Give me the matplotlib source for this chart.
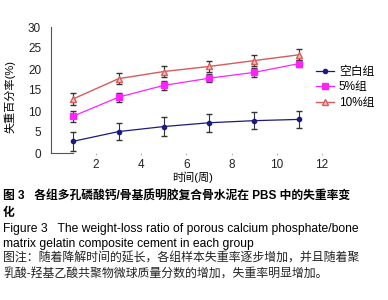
import matplotlib
matplotlib.use("Agg")
import matplotlib.pyplot as plt
import numpy as np

plt.rcParams['font.family'] = ['Liberation Sans', 'Noto Sans CJK SC', 'DejaVu Sans']

weeks = [1, 3, 5, 7, 9, 11]
blank = [2.8, 5.1, 6.3, 7.2, 7.7, 8.0]
blank_err = [2.3, 2.1, 2.2, 2.2, 2.1, 2.1]
pct5 = [8.8, 13.3, 16.1, 17.8, 19.2, 21.3]
pct5_err = [1.3, 1.1, 1.1, 1.0, 1.1, 0.9]
pct10 = [12.9, 17.7, 19.4, 20.6, 22.0, 23.4]
pct10_err = [1.4, 1.3, 1.4, 1.2, 1.3, 1.3]
labels = ['空白组', '5%组', '10%组']
xticks = [2, 4, 6, 8, 10, 12]
yticks = [0, 5, 10, 15, 20, 25, 30]

fig = plt.figure(figsize=(3.88, 3.0), dpi=100)
ax = fig.add_axes([0.131, 0.49, 0.699, 0.42])

c1 = ax.errorbar(weeks, blank, yerr=blank_err, color='#1a1a80', marker='o', ms=3,
                 lw=0.9, ecolor='#333333', elinewidth=0.8, capsize=2)
c2 = ax.errorbar(weeks, pct5, yerr=pct5_err, color='#ff22ff', marker='s', ms=4,
                 lw=0.9, ecolor='#333333', elinewidth=0.8, capsize=2)
c3 = ax.errorbar(weeks, pct10, yerr=pct10_err, color='#d85a5a', marker='^', ms=5,
                 mfc='#f4c0c0', mec='#d85a5a', lw=1.0, ecolor='#333333', elinewidth=0.8,
                 capsize=2)

ax.set_xlim(0, 12)
ax.set_ylim(0, 30)
ax.set_xticks(xticks)
ax.set_yticks(yticks)
ax.spines['top'].set_visible(False)
ax.spines['right'].set_visible(False)
ax.spines['bottom'].set_bounds(0, 1)
ax.spines['left'].set_color('#555555')
ax.spines['bottom'].set_color('#555555')
ax.tick_params(axis='y', length=0, pad=7, labelsize=8.5, colors='#222222')
ax.tick_params(axis='x', length=1.5, pad=3, labelsize=8.5, colors='#222222', color='#bbbbbb')

ax.set_ylabel('失重百分率(%)', fontsize=8)
ax.yaxis.set_label_coords(-0.13, 0.45)
ax.set_xlabel('时间(周)', fontsize=8, va='center')
ax.xaxis.set_label_coords(0.524, -0.195)

ax.legend([c1.lines[0], c2.lines[0], c3.lines[0]], labels,
          loc='center left', bbox_to_anchor=(0.94, 0.52), frameon=False,
          fontsize=8.5, handlelength=1.5, handletextpad=0.4, labelspacing=0.3)

cfont = ['Liberation Sans', 'Noto Sans CJK SC']
fig.text(0.008, 1 - 197/300, '图 3   各组多孔磷酸钙/骨基质明胶复合骨水泥在 PBS 中的失重率变',
         fontsize=8.5, fontweight='bold', va='center', family=cfont)
fig.text(0.008, 1 - 213/300, '化', fontsize=8.5, fontweight='bold', va='center', family=cfont)
fig.text(0.008, 1 - 229/300, 'Figure 3   The weight-loss ratio of porous calcium phosphate/bone',
         fontsize=8.7, va='center', family=cfont)
fig.text(0.008, 1 - 244/300, 'matrix gelatin composite cement in each group',
         fontsize=8.7, va='center', family=cfont)
fig.text(0.008, 1 - 259/300, '图注：随着降解时间的延长，各组样本失重率逐步增加，并且随着聚',
         fontsize=8.6, va='center', family=cfont, color='#222222')
fig.text(0.008, 1 - 275/300, '乳酸-羟基乙酸共聚物微球质量分数的增加，失重率明显增加。',
         fontsize=8.6, va='center', family=cfont, color='#222222')

fig.savefig('out.png', dpi=100)
